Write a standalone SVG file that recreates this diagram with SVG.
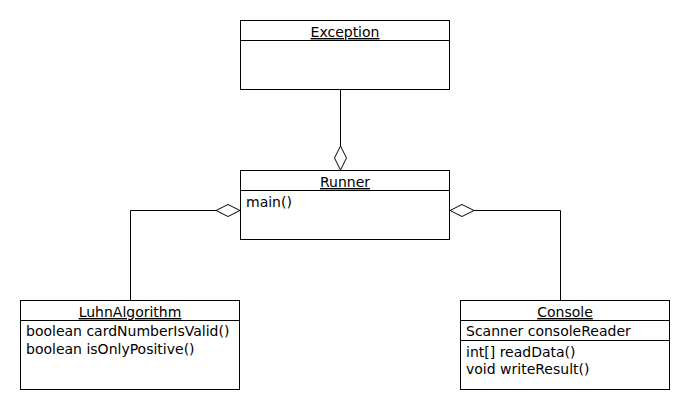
<svg xmlns="http://www.w3.org/2000/svg" width="690" height="410" viewBox="0 0 690 410">
<style>
.box{fill:#fff;stroke:#000;stroke-width:1}
.ln{fill:none;stroke:#000;stroke-width:1}
.dia{fill:#fff;stroke:#000;stroke-width:1}
text{font-family:"DejaVu Sans",sans-serif;font-size:14px;fill:#000}
.t{text-anchor:middle;text-decoration:underline}
</style>
<rect width="690" height="410" fill="#fff"/>
<g id="connectors">
<path class="ln" d="M340.5 89.5 V146"/>
<polygon class="dia" points="340.5,146 346.5,158 340.5,170 334.5,158"/>
<path class="ln" d="M130.5 300 V210.5 H216"/>
<polygon class="dia" points="216,210.5 228,204.5 240,210.5 228,216.5"/>
<path class="ln" d="M560.5 300 V210.5 H474"/>
<polygon class="dia" points="450,210.5 462,204.5 474,210.5 462,216.5"/>
</g>
<g id="Exception">
<rect class="box" x="240.5" y="20.5" width="209" height="69"/>
<line class="ln" x1="240.5" y1="40.5" x2="449.5" y2="40.5"/>
<text class="t" x="345" y="37">Exception</text>
</g>
<g id="Runner">
<rect class="box" x="240.5" y="170.5" width="209" height="69"/>
<line class="ln" x1="240.5" y1="190.5" x2="449.5" y2="190.5"/>
<text class="t" x="345" y="187">Runner</text>
<text x="246" y="207">main()</text>
</g>
<g id="LuhnAlgorithm">
<rect class="box" x="20.5" y="300.5" width="219" height="89"/>
<line class="ln" x1="20.5" y1="320.5" x2="239.5" y2="320.5"/>
<text class="t" x="130" y="317">LuhnAlgorithm</text>
<text x="26" y="336">boolean cardNumberIsValid()</text>
<text x="26" y="354">boolean isOnlyPositive()</text>
</g>
<g id="Console">
<rect class="box" x="460.5" y="300.5" width="209" height="89"/>
<line class="ln" x1="460.5" y1="320.5" x2="669.5" y2="320.5"/>
<line class="ln" x1="460.5" y1="340.5" x2="669.5" y2="340.5"/>
<text class="t" x="565" y="317">Console</text>
<text x="466" y="336">Scanner consoleReader</text>
<text x="466" y="357">int[] readData()</text>
<text x="466" y="374">void writeResult()</text>
</g>
</svg>
